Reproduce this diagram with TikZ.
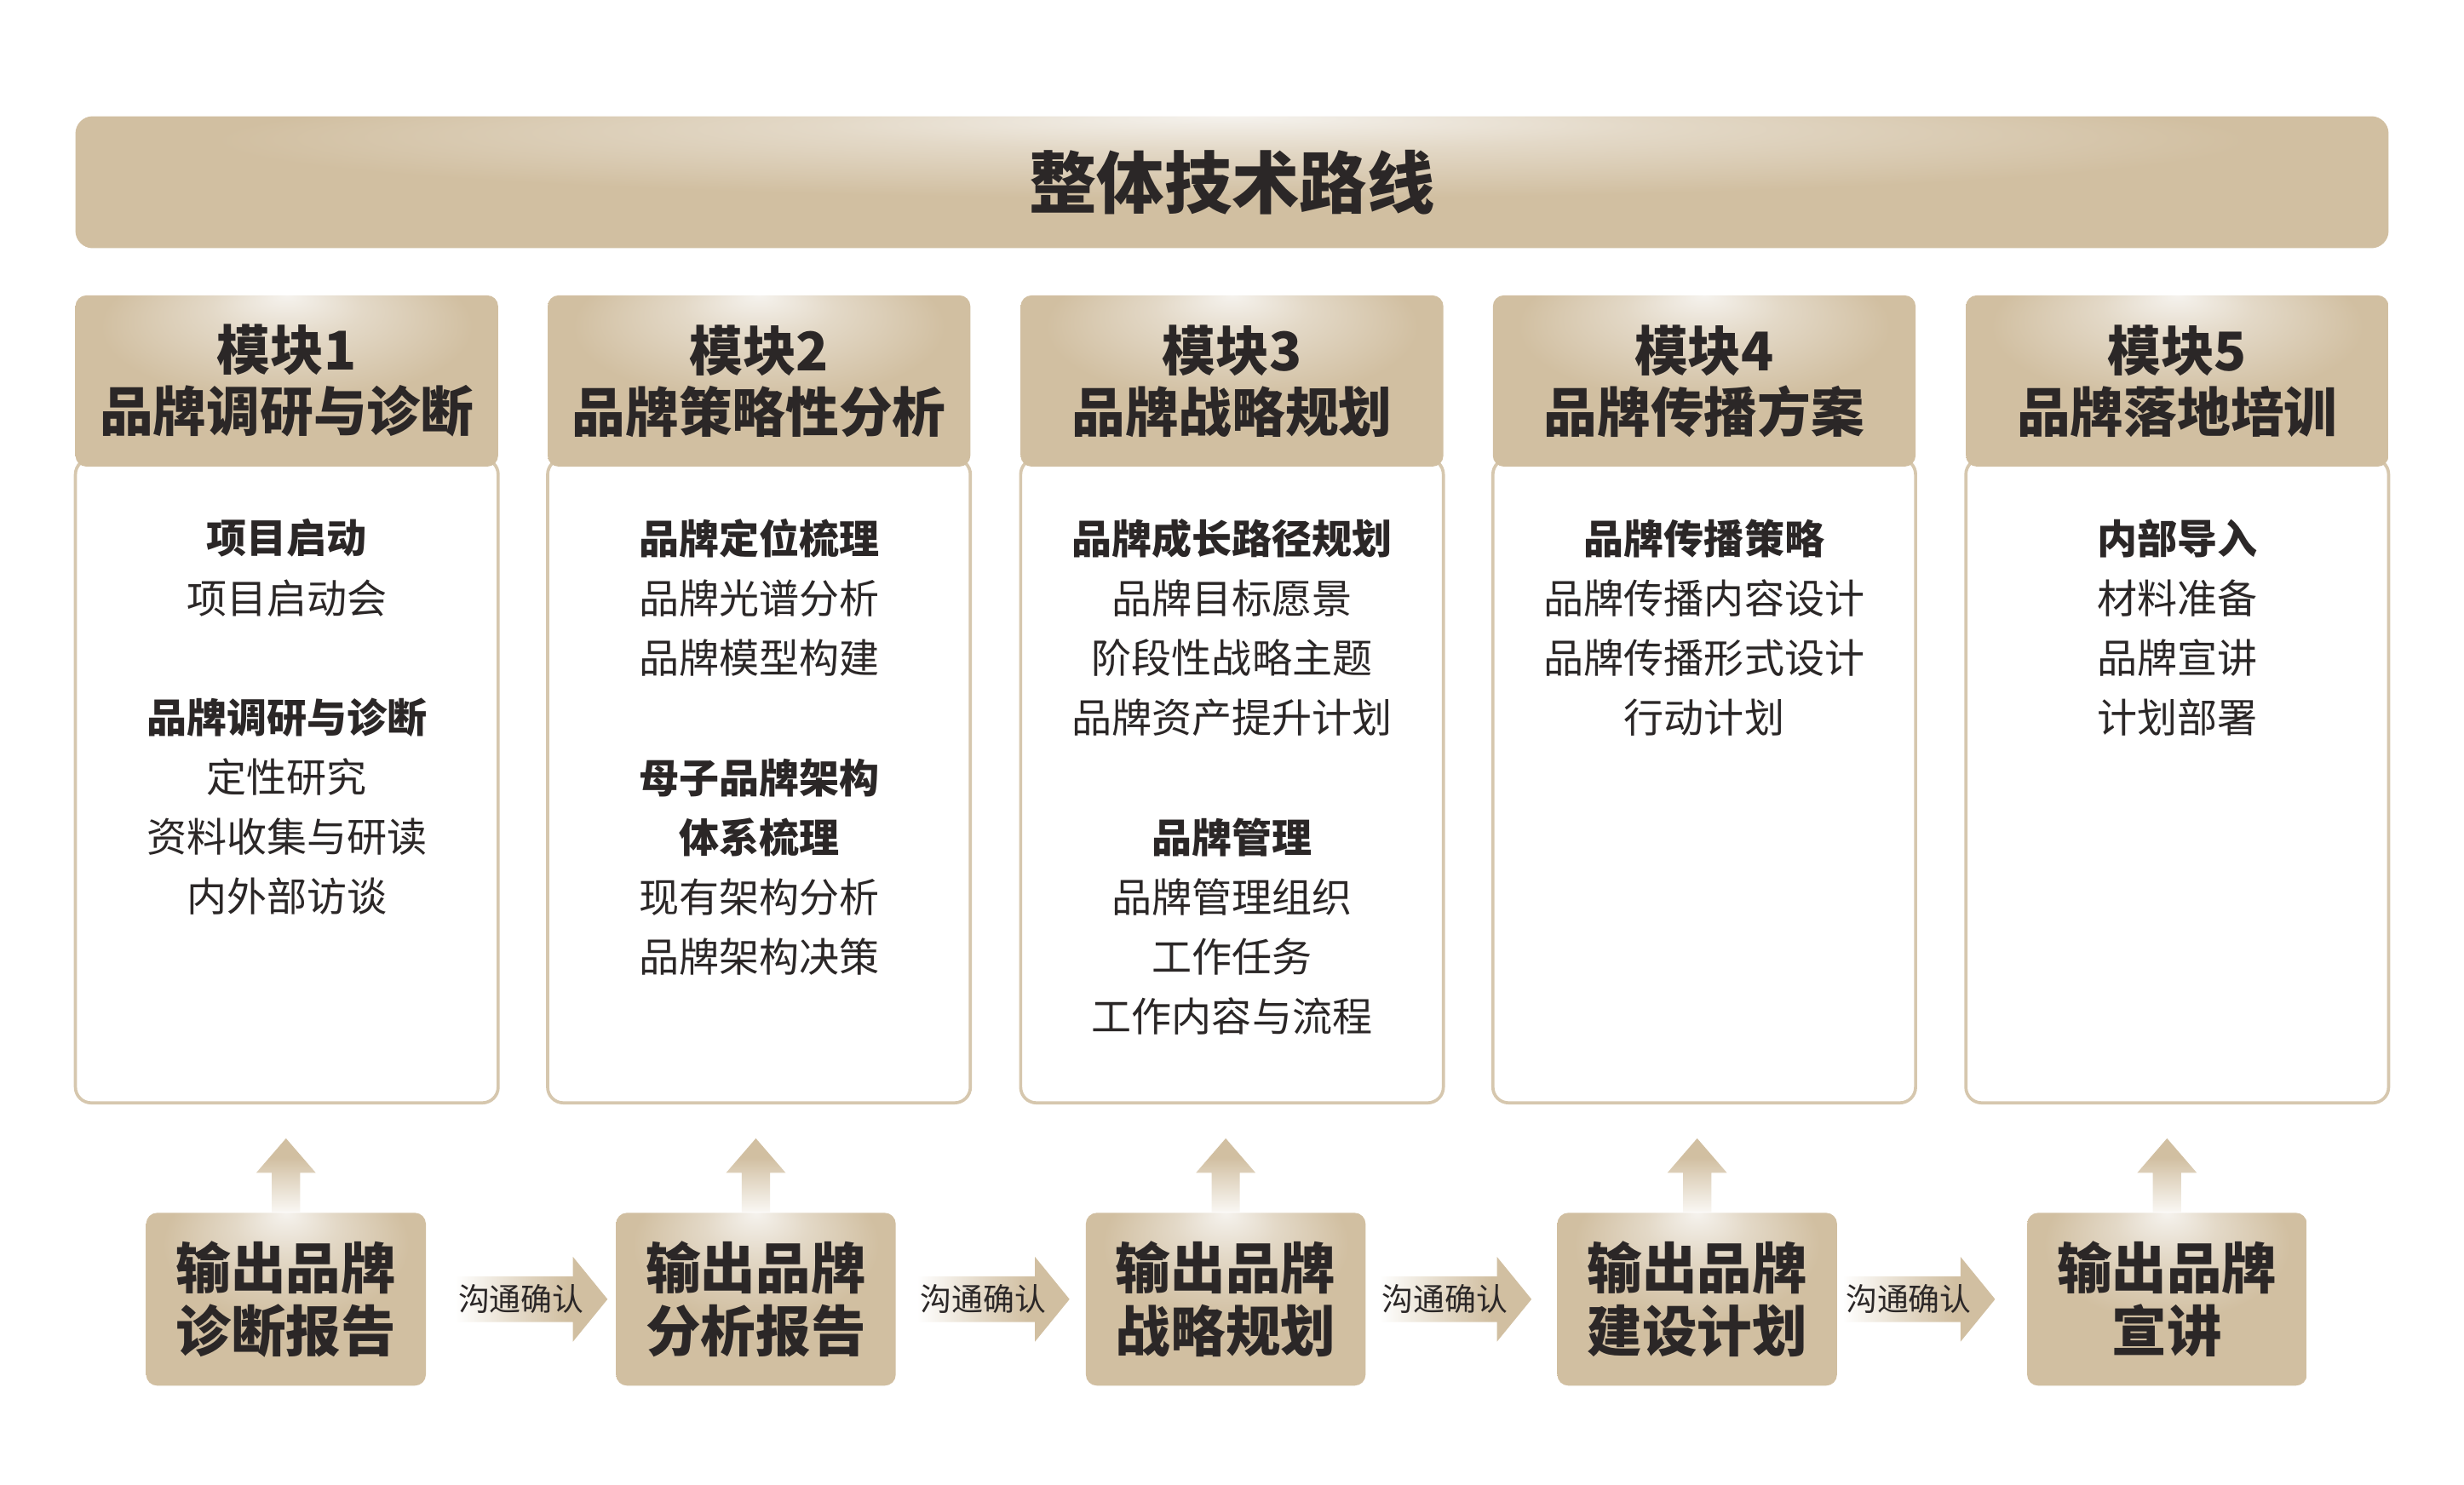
\documentclass[tikz,border=0pt]{standalone}
\usepackage{fontspec}
\newfontfamily\cjk{Noto Sans CJK SC}
\usepackage{tikz}
\usetikzlibrary{positioning,calc}
\definecolor{tan}{RGB}{209,191,161}
\definecolor{glow}{RGB}{245,242,237}
\definecolor{rim}{RGB}{214,199,174}
\definecolor{ink}{RGB}{43,39,39}
\colorlet{glowmid}{glow!50!tan}
\colorlet{tanpale}{tan!12!white}
\colorlet{tanhalf}{tan!70!white}
\pgfdeclareradialshading{topglow}{\pgfpoint{0bp}{25bp}}{color(0bp)=(glow); color(9bp)=(glowmid); color(22bp)=(tan); color(60bp)=(tan)}
\pgfdeclarehorizontalshading{faderight}{100bp}{color(0bp)=(white); color(25bp)=(white); color(50bp)=(tanhalf); color(62bp)=(tan); color(100bp)=(tan)}
\pgfdeclareverticalshading{fadeup}{100bp}{color(0bp)=(white); color(25bp)=(tanpale); color(50bp)=(tanhalf); color(62bp)=(tan); color(100bp)=(tan)}

\begin{document}
\begin{tikzpicture}[x=0.5pt, y=-0.5pt,
  every node/.style={font=\cjk, text=ink},
  titlebar/.style={shade, shading=topglow, rounded corners=5.5pt, minimum width=736pt, minimum height=42pt, font=\cjk\bfseries\fontsize{21.5}{24}\selectfont},
  modhead/.style={shade, shading=topglow, rounded corners=3.5pt, minimum width=134.5pt, minimum height=54.5pt, align=center, font=\cjk\bfseries\fontsize{17}{19.5}\selectfont},
  modbody/.style={draw=rim, line width=1pt, fill=white, rounded corners=5pt, minimum width=134.5pt, minimum height=205pt},
  itemlist/.style={align=center, anchor=north, inner sep=0pt, font=\cjk\fontsize{12.75}{19}\selectfont},
  outbox/.style={shade, shading=topglow, rounded corners=3.5pt, minimum width=89pt, minimum height=55pt, align=center, font=\cjk\bfseries\fontsize{17.5}{20}\selectfont},
  talk/.style={font=\cjk\fontsize{10}{12}\selectfont},
  uparrow/.style={shade, shading=fadeup},
  rightarrow/.style={shade, shading=faderight}
]
  \fill[white] (0,0) rectangle (1568,945);
  \useasboundingbox (0,0) rectangle (1568,945);

  \node[titlebar] (title) at (784,116) {整体技术路线};

  % module columns
  \foreach \i/\x in {1/182.5,2/483,3/784,4/1084.5,5/1385.5}
    \node[modbody] (body\i) at (\x,497) {};
  \foreach \i/\x/\name in {1/182.5/品牌调研与诊断,2/483/品牌策略性分析,3/784/品牌战略规划,4/1084.5/品牌传播方案,5/1385.5/品牌落地培训}
    \node[modhead] (head\i) at (\x,242.5) {模块\i\\\name};

  \node[itemlist] (list1) at (182.5,330) {\textbf{项目启动}\\项目启动会\\[19pt]\textbf{品牌调研与诊断}\\定性研究\\资料收集与研读\\内外部访谈};
  \node[itemlist] (list2) at (483,330) {\textbf{品牌定位梳理}\\品牌光谱分析\\品牌模型构建\\[19pt]\textbf{母子品牌架构}\\\textbf{体系梳理}\\现有架构分析\\品牌架构决策};
  \node[itemlist] (list3) at (784,330) {\textbf{品牌成长路径规划}\\品牌目标愿景\\阶段性战略主题\\品牌资产提升计划\\[19pt]\textbf{品牌管理}\\品牌管理组织\\工作任务\\工作内容与流程};
  \node[itemlist] (list4) at (1084.5,330) {\textbf{品牌传播策略}\\品牌传播内容设计\\品牌传播形式设计\\行动计划};
  \node[itemlist] (list5) at (1385.5,330) {\textbf{内部导入}\\材料准备\\品牌宣讲\\计划部署};

  % outputs
  \foreach \i/\x/\txt in {1/182/诊断报告,2/481/分析报告,3/780/战略规划,4/1080/建设计划,5/1379/宣讲}
    \node[outbox] (out\i) at (\x,827) {输出品牌\\\txt};

  \foreach \i in {1,...,5}
    \shade[uparrow] ($(out\i.north)+(-9,0)$) -- ++(0,-25) -- ++(-10,0) -- ($(out\i.north)+(0,-47)$)
      -- ($(out\i.north)+(19,-25)$) -- ++(-10,0) -- ($(out\i.north)+(9,0)$) -- cycle;

  % tip sits \d short of the next box
  \foreach \i/\j/\d in {1/2/5,2/3/10,3/4/16,4/5/20}{
    \coordinate (tip\i) at ($(out\j.west)+(-\d,0)$);
    \shade[rightarrow] ($(tip\i)+(-97,-14.5)$) -- ($(tip\i)+(-22,-14.5)$) -- ($(tip\i)+(-22,-27)$)
      -- (tip\i) -- ($(tip\i)+(-22,27)$) -- ($(tip\i)+(-22,14.5)$) -- ($(tip\i)+(-97,14.5)$) -- cycle;
    \node[talk] (talk\i) at ($(tip\i)+(-55,0)$) {沟通确认};
  }
\end{tikzpicture}
\end{document}
